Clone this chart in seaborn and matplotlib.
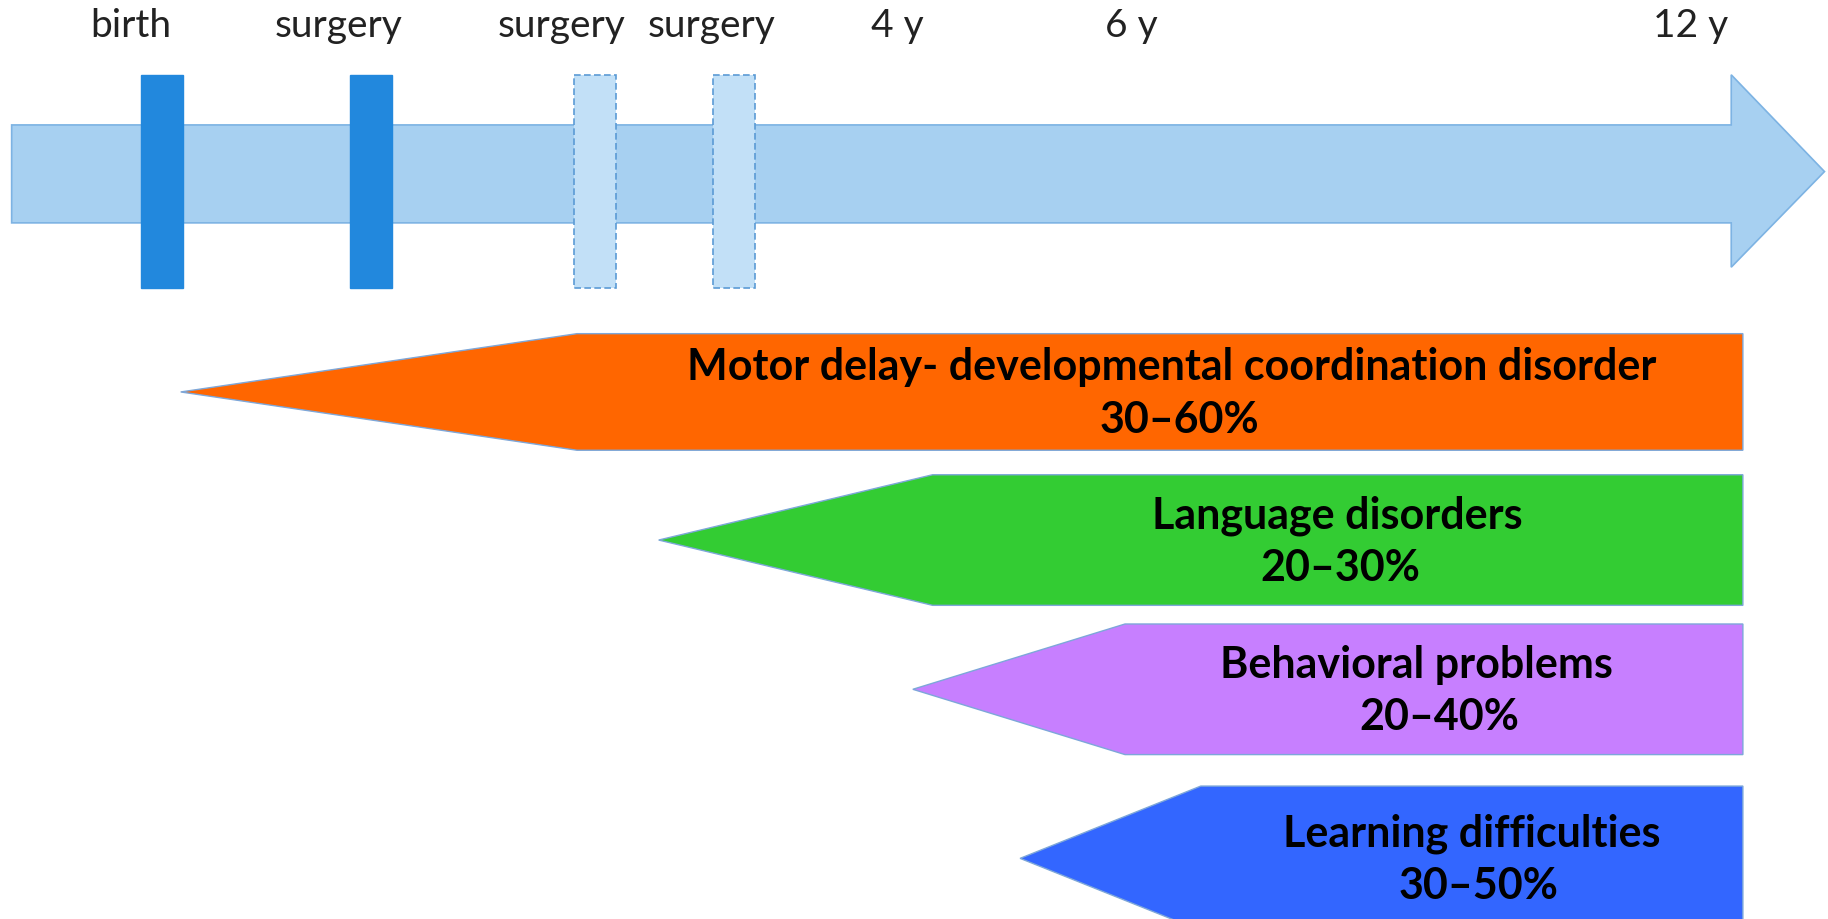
import matplotlib
matplotlib.use("Agg")
import matplotlib.pyplot as plt
from matplotlib.patches import Polygon, Rectangle
import seaborn as sns

# timeline events (schematic x positions)
event_names = ["birth", "surgery", "surgery", "surgery"]
event_x = [139, 318, 510, 630]
event_done = [True, True, False, False]

# labels along the top
top_labels = ["birth", "surgery", "surgery", "surgery", "4 y", "6 y", "12 y"]
top_label_x = [112, 290, 482, 610, 770, 970, 1450]

# outcome bands
outcomes = ["Motor delay- developmental coordination disorder",
            "Language disorders", "Behavioral problems", "Learning difficulties"]
ranges = ["30\u201360%", "20\u201330%", "20\u201340%", "30\u201350%"]
onset_tip = [155, 565, 783, 875]
onset_full = [495, 800, 965, 1030]
band_end = [1495, 1495, 1495, 1495]
band_mid = [337, 464, 592, 737]
band_half = [50, 56, 56, 62]
name_x = [1005, 1147, 1215, 1262]
pct_x = [1012, 1150, 1235, 1268]
band_colors = ["#FF6600", "#33CC33", "#C77FFF", "#3366FF"]

sns.set_style("white")
plt.rcParams["font.family"] = ["Lato", "DejaVu Sans"]

fig = plt.figure(figsize=(18.28, 9.2), dpi=100)
ax = fig.add_axes([0, 0, 1, 1])
ax.set_xlim(0, 1568)
ax.set_ylim(789, 0)
ax.axis("off")

# the big timeline arrow
shaft_top, shaft_bot, head_top, head_bot = 108, 192, 65, 230
arrow = Polygon([(10, shaft_top), (1485, shaft_top), (1485, head_top), (1565, 148),
                 (1485, head_bot), (1485, shaft_bot), (10, shaft_bot)],
                closed=True, facecolor="#A7D0F1", edgecolor="#7DB3E3", lw=1.2, zorder=1)
ax.add_patch(arrow)

# event bars
for x, done in zip(event_x, event_done):
    if done:
        r = Rectangle((x - 18, 65), 36, 183, facecolor="#2288DD", edgecolor="#2288DD", zorder=2)
    else:
        r = Rectangle((x - 18, 65), 36, 183, facecolor="#C2E0F7", edgecolor="#5B9BD5",
                      lw=1.2, ls=(0, (4, 2)), zorder=2)
    ax.add_patch(r)

for lab, x in zip(top_labels, top_label_x):
    ax.text(x, 22, lab, ha="center", va="center", fontsize=28, color="#222222")

# outcome arrows
for i in range(len(outcomes)):
    m, h = band_mid[i], band_half[i]
    pts = [(onset_tip[i], m), (onset_full[i], m - h), (band_end[i], m - h),
           (band_end[i], m + h), (onset_full[i], m + h)]
    ax.add_patch(Polygon(pts, closed=True, facecolor=band_colors[i],
                         edgecolor="#7DA7D9", lw=1, zorder=2))
    ax.text(name_x[i], m - 22, outcomes[i], ha="center", va="center",
            fontsize=31, fontweight="bold", color="black", zorder=3)
    ax.text(pct_x[i], m + 23, ranges[i], ha="center", va="center",
            fontsize=31, fontweight="bold", color="black", zorder=3)

fig.savefig("out.png", dpi=100)
